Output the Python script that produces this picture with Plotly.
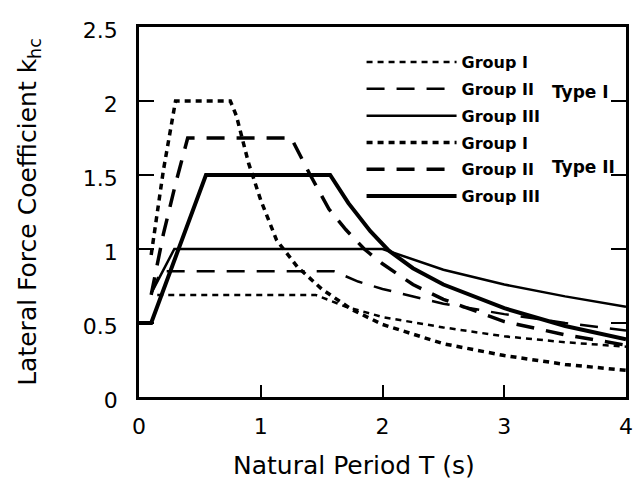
import plotly.graph_objects as go

# Type I (plate boundary)
t1_g1_T = [0.15, 1.45, 1.7, 2.0, 2.5, 3.0, 3.5, 4.0]
t1_g1_k = [0.69, 0.69, 0.61, 0.54, 0.47, 0.41, 0.37, 0.34]
t1_g2_T = [0.10, 0.18, 1.6, 1.8, 2.0, 2.5, 3.0, 3.5, 4.0]
t1_g2_k = [0.70, 0.85, 0.85, 0.78, 0.73, 0.63, 0.56, 0.50, 0.45]
t1_g3_T = [0.10, 0.29, 2.0, 2.25, 2.5, 3.0, 3.5, 4.0]
t1_g3_k = [0.70, 1.00, 1.00, 0.93, 0.86, 0.76, 0.68, 0.61]

# Type II (inland)
t2_g1_T = [0.10, 0.20, 0.30, 0.75, 0.80, 0.90, 1.0, 1.13, 1.3, 1.5, 1.75, 2.0, 2.5, 3.0, 3.5, 4.0]
t2_g1_k = [0.96, 1.53, 2.00, 2.00, 1.90, 1.58, 1.33, 1.06, 0.88, 0.73, 0.59, 0.49, 0.36, 0.28, 0.22, 0.18]
t2_g2_T = [0.10, 0.20, 0.30, 0.40, 1.25, 1.4, 1.56, 1.7, 1.85, 2.0, 2.25, 2.5, 3.0, 3.5, 4.0]
t2_g2_k = [0.69, 1.10, 1.44, 1.75, 1.75, 1.51, 1.27, 1.13, 1.00, 0.90, 0.76, 0.66, 0.51, 0.42, 0.35]
t2_g3_T = [0.0, 0.10, 0.55, 1.57, 1.72, 1.9, 2.05, 2.25, 2.5, 3.0, 3.5, 4.0]
t2_g3_k = [0.50, 0.50, 1.50, 1.50, 1.31, 1.12, 0.99, 0.87, 0.76, 0.60, 0.48, 0.39]

names = ["Group I", "Group II", "Group III", "Group I", "Group II", "Group III"]
x_ticks = [0, 1, 2, 3, 4]
y_ticks = [0, 0.5, 1, 1.5, 2, 2.5]

short = "6px,5px"
long_ = "18px,12px"

series = [
    (t1_g1_T, t1_g1_k, short, 2.5),
    (t1_g2_T, t1_g2_k, long_, 2.5),
    (t1_g3_T, t1_g3_k, "solid", 2.5),
    (t2_g1_T, t2_g1_k, short, 3.5),
    (t2_g2_T, t2_g2_k, long_, 3.5),
    (t2_g3_T, t2_g3_k, "solid", 4),
]

fig = go.Figure()
for i, ((xs, ys, dash, w), nm) in enumerate(zip(series, names)):
    fig.add_trace(go.Scatter(x=xs, y=ys, mode="lines", name=nm,
                             legendgroup=f"g{i}",
                             line=dict(color="black", width=w, dash=dash)))

font = "DejaVu Sans, sans-serif"
lfont = dict(size=16, family=font, weight="bold")
afont = dict(size=17, family=font, weight="bold")
fig.update_layout(
    width=641, height=485,
    margin=dict(l=139, r=8, t=27, b=88),
    paper_bgcolor="white", plot_bgcolor="white",
    font=dict(family=font, color="black", size=22),
    showlegend=True,
    legend=dict(x=0.457, y=0.951, xanchor="left", yanchor="top",
                bgcolor="rgba(0,0,0,0)", itemwidth=90,
                font=lfont, tracegroupgap=3, traceorder="grouped",
                itemclick=False),
    xaxis=dict(range=[0, 4], tickvals=x_ticks, ticks="inside", ticklen=12,
               tickwidth=2, tickcolor="black", showgrid=False, zeroline=False,
               showline=True, linecolor="black", linewidth=2.5, mirror=True,
               ticklabelstandoff=8, tickfont=dict(size=22)),
    yaxis=dict(range=[0, 2.5], tickvals=y_ticks, ticks="inside", ticklen=15,
               tickwidth=2, tickcolor="black", showgrid=False, zeroline=False,
               showline=True, linecolor="black", linewidth=2.5, mirror="ticks",
               ticklabelstandoff=14, ticklabelshift=3, tickfont=dict(size=22),
               title=dict(text="Lateral Force Coefficient k<sub>hc</sub>",
                          standoff=40, font=dict(size=25))),
    annotations=[
        dict(x=0.441, y=-0.184, xref="paper", yref="paper",
             text="Natural Period T (s)", showarrow=False,
             xanchor="center", yanchor="middle", font=dict(size=25)),
        dict(x=0.844, y=0.824, xref="paper", yref="paper", text="Type I",
             showarrow=False, xanchor="left", yanchor="middle", font=afont),
        dict(x=0.844, y=0.622, xref="paper", yref="paper", text="Type II",
             showarrow=False, xanchor="left", yanchor="middle", font=afont),
    ],
)

fig.write_html("out.html", config={"displayModeBar": False},
               post_script="document.body.style.margin='0';")
